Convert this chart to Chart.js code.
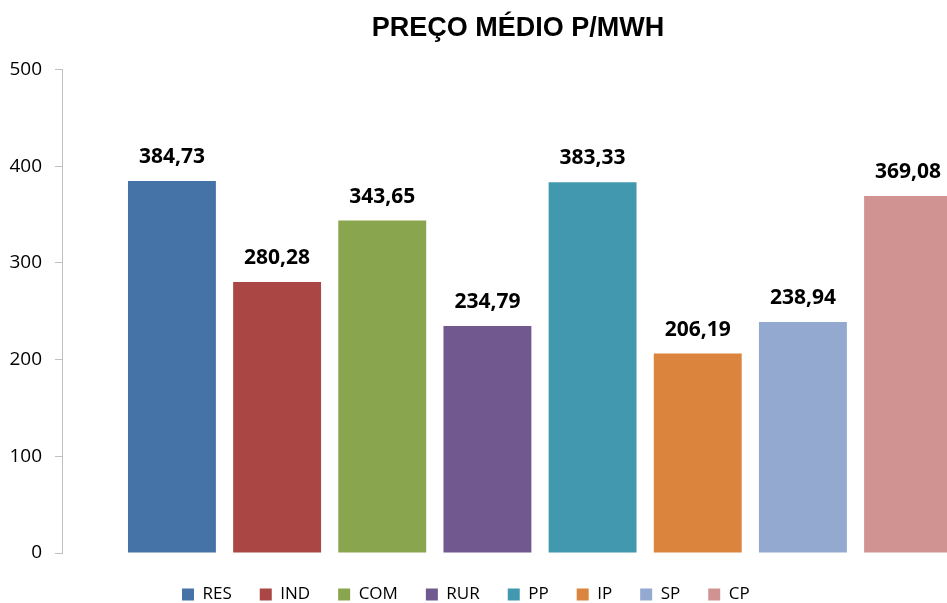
<!DOCTYPE html>
<html lang="pt">
<head>
    <meta charset="UTF-8">
    <title>Preço médio p/MWh</title>
    <script src="https://cdn.jsdelivr.net/npm/chart.js"></script>
    <style>
        body {
            margin: 0;
            background: #ffffff;
            overflow: hidden;
        }
        .chart-box {
            width: 1036px;
            height: 613px;
        }
    </style>
</head>
<body>
    <div class="chart-box">
        <canvas id="chart" width="1036" height="613"></canvas>
    </div>

    <script>
        // Categorias e valores
        const categories = ['RES', 'IND', 'COM', 'RUR', 'PP', 'IP', 'SP', 'CP'];
        const prices = [384.73, 280.28, 343.65, 234.79, 383.33, 206.19, 238.94, 369.08];
        const colors = ['#4572A7', '#AA4643', '#89A54E', '#71588F', '#4198AF', '#DB843D', '#93A9CF', '#D19392'];
        const yTicks = [0, 100, 200, 300, 400, 500];

        const axisGray = '#bfbfbf';

        // one dataset per category so the legend lists them like Excel does
        const datasets = categories.map((name, i) => ({
            label: name,
            data: [prices[i]],
            backgroundColor: colors[i],
            borderWidth: 0,
            categoryPercentage: 0.88,
            barPercentage: 0.836
        }));

        // value labels above each bar, decimal comma
        const valueLabels = {
            id: 'valueLabels',
            afterDatasetsDraw(chart) {
                const ctx = chart.ctx;
                ctx.save();
                ctx.font = 'bold 21px "Open Sans"';
                ctx.fillStyle = '#000000';
                ctx.textAlign = 'center';
                ctx.textBaseline = 'middle';
                chart.data.datasets.forEach((ds, i) => {
                    const bar = chart.getDatasetMeta(i).data[0];
                    const txt = ds.data[0].toFixed(2).replace('.', ',');
                    ctx.fillText(txt, bar.x, bar.y - 24);
                });
                ctx.restore();
            }
        };

        // Excel placed title and legend freely; nudge them to where they were
        const boxOffsets = {
            id: 'boxOffsets',
            afterLayout(chart) {
                const t = chart.titleBlock;
                if (t) {
                    const dx = 518 - (t.left + t.right) / 2;
                    t.left += dx;
                    t.right += dx;
                }
                const lg = chart.legend;
                if (lg && lg.lineWidths) {
                    const pad = lg.options.labels.padding;
                    const start = (lg.left + pad + lg.right - lg.lineWidths[0]) / 2;
                    const dx = 182 - start;
                    lg.left += dx;
                    lg.right += dx;
                }
            }
        };

        new Chart(document.getElementById('chart').getContext('2d'), {
            type: 'bar',
            data: {
                labels: [''],
                datasets: datasets
            },
            options: {
                responsive: false,
                animation: false,
                layout: {
                    padding: { left: 0, right: 18, top: 0, bottom: 0 }
                },
                scales: {
                    x: {
                        ticks: { display: false },
                        grid: {
                            drawOnChartArea: false,
                            drawTicks: true,
                            tickLength: 5,
                            color: 'rgba(0,0,0,0)'
                        },
                        border: { display: false }
                    },
                    y: {
                        min: 0,
                        max: 500,
                        afterBuildTicks(axis) {
                            axis.ticks = yTicks.map(v => ({ value: v }));
                        },
                        afterFit(axis) {
                            axis.width = 62;
                        },
                        ticks: {
                            color: '#000000',
                            padding: 13,
                            font: { family: '"Open Sans"', size: 19 }
                        },
                        grid: {
                            drawOnChartArea: false,
                            drawTicks: true,
                            tickLength: 7,
                            color: axisGray
                        },
                        border: {
                            color: axisGray,
                            width: 1
                        }
                    }
                },
                plugins: {
                    title: {
                        display: true,
                        text: 'PREÇO MÉDIO P/MWH',
                        color: '#000000',
                        font: { family: '"Liberation Sans", Arial, sans-serif', size: 27, weight: 'bold' },
                        padding: { top: 12, bottom: 25 }
                    },
                    legend: {
                        position: 'bottom',
                        labels: {
                            color: '#000000',
                            boxWidth: 12,
                            boxHeight: 12,
                            padding: 28,
                            font: { family: '"Open Sans"', size: 17 }
                        }
                    },
                    tooltip: { enabled: false }
                }
            },
            plugins: [valueLabels, boxOffsets]
        });
    </script>
</body>
</html>
